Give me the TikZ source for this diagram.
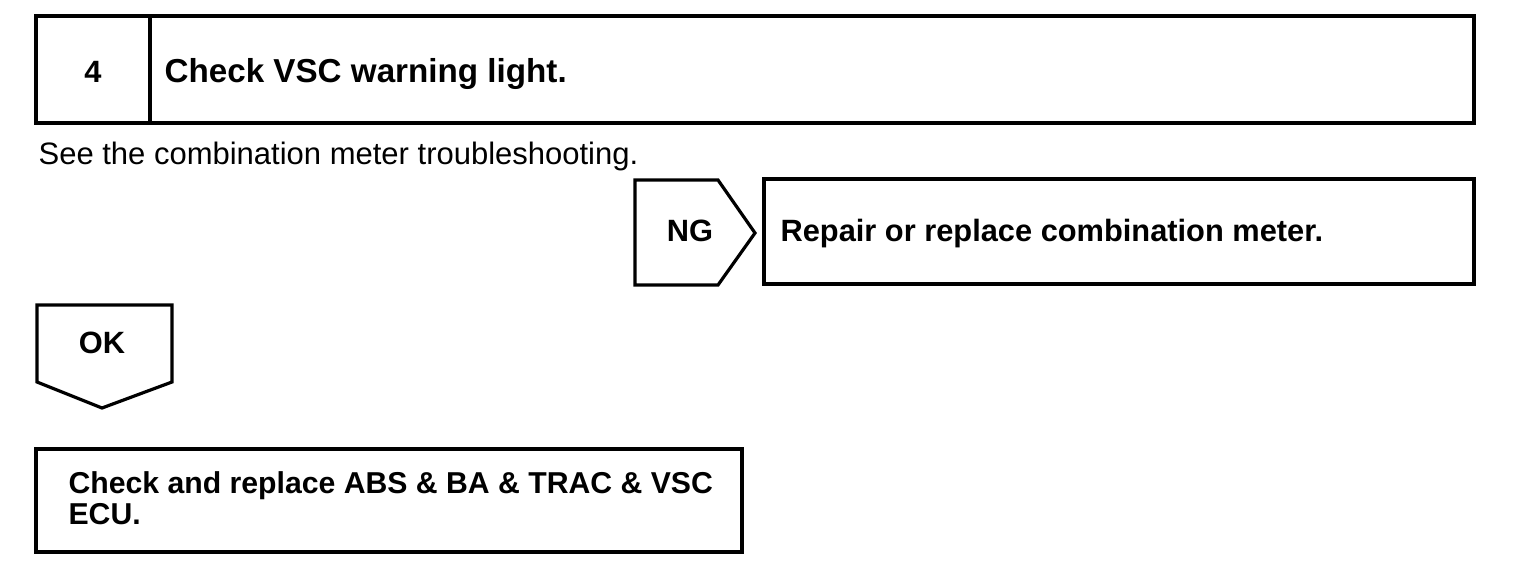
\documentclass[tikz,border=0pt]{standalone}
\usepackage{fontspec}
\setmainfont{Liberation Sans}
\begin{document}
\begin{tikzpicture}[x=0.5pt, y=-0.5pt, line width=1.6pt,
    head/.style={anchor=base west, inner sep=0pt, font=\fontsize{15.4}{17}\selectfont\bfseries},
    plain/.style={anchor=base west, inner sep=0pt, font=\fontsize{15.5}{18}\selectfont}]
    \useasboundingbox (0,0) rectangle (1520,580);
    % Step header: number cell and title cell
    \draw (36,16) rectangle (1474,123);
    \draw (150,16) -- (150,123);
    \node[head, anchor=base] (stepno) at (93,82) {4};
    \node[head, font=\fontsize{16.6}{18}\selectfont\bfseries] (steptitle) at (163,82)
    {Check VSC warning light.};
    % Instruction line
    \node[plain] (hint) at (37,164) {See the combination meter troubleshooting.};
    % NG branch: arrow tag and result box
    \draw (635,180) -- (718,180) -- (755,233) -- (718,285) -- (635,285) -- cycle;
    \node[head, anchor=base] (ngtag) at (690,241) {NG};
    \draw (764,179) rectangle (1474,284);
    \node[head] (ngresult) at (779,241) {Repair or replace combination meter.};
    % OK branch: downward tag and result box
    \draw (37,305) -- (172,305) -- (172,382) -- (102,408) -- (37,382) -- cycle;
    \node[head, anchor=base] (oktag) at (102,353) {OK};
    \draw (36,449) rectangle (742,552);
    \node[head, font=\fontsize{15.1}{17}\selectfont\bfseries] (okresult) at (67,493)
    {Check and replace ABS \& BA \& TRAC \& VSC};
    \node[head, font=\fontsize{15.1}{17}\selectfont\bfseries] (okresultb) at (67,524)
    {ECU.};
\end{tikzpicture}
\end{document}
